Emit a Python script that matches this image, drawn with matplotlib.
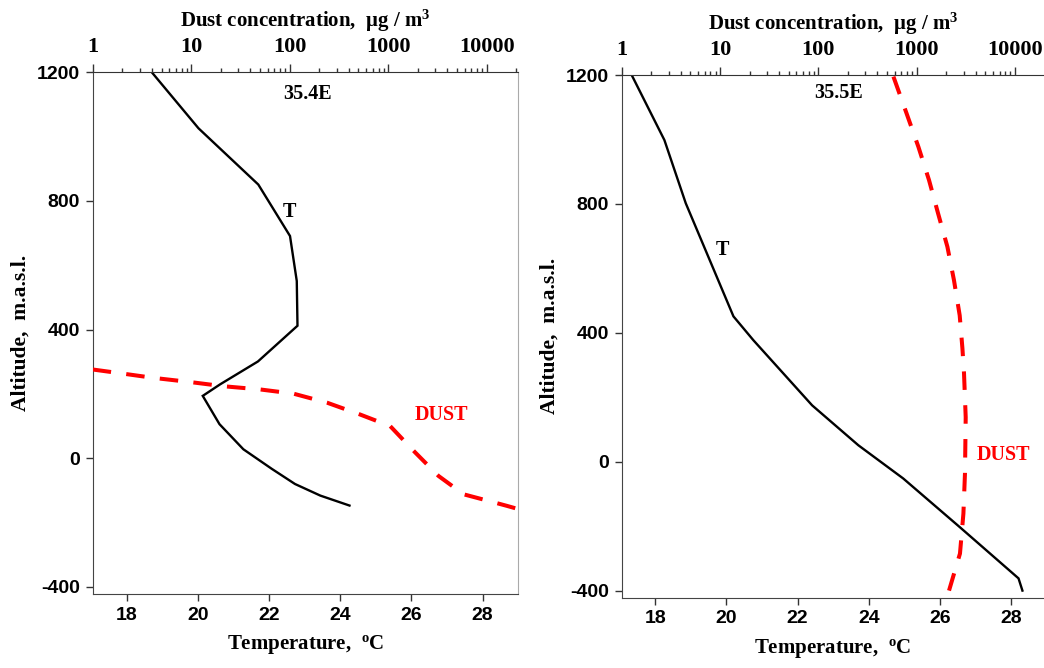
import matplotlib
matplotlib.use("Agg")
import matplotlib.pyplot as plt
from matplotlib.ticker import FixedLocator, LogLocator, NullFormatter, FixedFormatter

plt.rcParams['mathtext.fontset'] = 'custom'
plt.rcParams['mathtext.rm'] = 'Liberation Serif:bold'
plt.rcParams['mathtext.bf'] = 'Liberation Serif:bold'
plt.rcParams['mathtext.it'] = 'Liberation Serif:bold'
plt.rcParams['axes.unicode_minus'] = False

# ---------------- data ----------------
# Left panel (35.4E)
left_T_temp = [18.71, 20.02, 21.70, 22.59, 22.78, 22.80, 21.69, 20.63, 20.14, 20.61, 21.28, 22.08, 22.73, 23.44, 24.26]
left_T_alt = [1200, 1026, 851, 691, 551, 412, 301, 230, 194, 106, 28, -33, -80, -116, -147]
left_dust_conc = [1.0, 2.05, 4.13, 9.75, 21.2, 50.1, 109, 239, 520, 1050, 1885, 3250, 5840, 10900, 16100, 21000]
left_dust_alt = [276, 263, 250, 237, 224, 214, 201, 173, 136, 100, 18, -55, -112, -134, -148, -158]

# Right panel (35.5E)
right_T_temp = [17.34, 18.26, 18.86, 20.20, 20.76, 22.41, 23.71, 24.97, 26.57, 28.21, 28.32]
right_T_alt = [1200, 998, 802, 451, 377, 175, 51, -52, -204, -362, -400]
right_dust_conc = [581, 788, 1043, 1337, 1652, 2057, 2400, 2744, 2924, 3036, 3158, 3105, 2993, 2762, 2137]
right_dust_alt = [1195, 1082, 977, 874, 771, 667, 563, 454, 352, 274, 138, -36, -161, -285, -400]

temp_ticks = [18, 20, 22, 24, 26, 28]
alt_ticks = [-400, 0, 400, 800, 1200]
conc_ticks = [1, 10, 100, 1000, 10000]
conc_ticklabels = ['1', '10', '100', '1000', '10000']
panel_titles = ['35.4E', '35.5E']

SANS = 'Liberation Sans'
SERIF = 'Liberation Serif'

fig = plt.figure(figsize=(10.44, 6.68), dpi=100)

W, H = 1044, 668
def rect(x0, x1, y0, y1):
    return [x0 / W, 1 - y1 / H, (x1 - x0) / W, (y1 - y0) / H]

panels = [
    dict(rect=rect(92.7, 518.3, 72.3, 594.0), xlim=(17.05, 29.0), clim=(1, 21000),
         T=(left_T_temp, left_T_alt), D=(left_dust_conc, left_dust_alt),
         title=panel_titles[0], title_pos=(23.07, 1132), Tlab=(22.57, 767), Dlab=(26.85, 136),
         right_spine=True),
    dict(rect=rect(621.7, 1044.5, 75.0, 597.7), xlim=(17.06, 28.94), clim=(1, 20000),
         T=(right_T_temp, right_T_alt), D=(right_dust_conc, right_dust_alt),
         title=panel_titles[1], title_pos=(23.15, 1143), Tlab=(19.89, 656), Dlab=(27.78, 20),
         right_spine=False),
]

for p in panels:
    ax = fig.add_axes(p['rect'])
    ax.set_xlim(*p['xlim'])
    ax.set_ylim(-422, 1200)
    ax.plot(p['T'][0], p['T'][1], color='black', lw=1.7, solid_joinstyle='miter', zorder=3)

    ax.set_xticks(temp_ticks)
    ax.set_yticks(alt_ticks)
    ax.tick_params(axis='both', direction='out', length=5, width=1, colors='#333333',
                   labelcolor='black', pad=4)
    for lab in ax.get_xticklabels() + ax.get_yticklabels():
        lab.set_fontfamily(SANS)
        lab.set_fontweight('bold')
        lab.set_fontsize(14)
    ax.set_xlabel('Temperature,  $^{\\mathrm{o}}$C', fontfamily=SERIF, fontweight='bold',
                  fontsize=15, labelpad=7)
    ax.set_ylabel('Altitude,  m.a.s.l.', fontfamily=SERIF, fontweight='bold',
                  fontsize=15.5, labelpad=5)
    ax.spines['left'].set_color('#444444')
    ax.spines['bottom'].set_color('#444444')
    ax.spines['right'].set_color('#aaaaaa')
    ax.spines['right'].set_visible(p['right_spine'])
    ax.spines['top'].set_visible(False)

    ax.text(*p['title_pos'], p['title'], fontfamily=SERIF, fontweight='bold', fontsize=14.5,
            ha='center', va='center')
    ax.text(*p['Tlab'], 'T', fontfamily=SERIF, fontweight='bold', fontsize=14.5,
            ha='center', va='center')
    ax.text(*p['Dlab'], 'DUST', fontfamily=SERIF, fontweight='bold', fontsize=14.5,
            color='#ff0000', ha='center', va='center', zorder=5)

    ax2 = ax.twiny()
    ax2.set_xscale('log')
    ax2.set_xlim(*p['clim'])
    ax2.set_ylim(-422, 1200)
    ax2.plot(p['D'][0], p['D'][1], color='#ff0000', lw=2.9, dashes=(4.6, 3.8),
             dash_capstyle='butt', zorder=4)
    ax2.xaxis.set_major_locator(FixedLocator(conc_ticks))
    ax2.xaxis.set_major_formatter(FixedFormatter(conc_ticklabels))
    ax2.xaxis.set_minor_locator(LogLocator(base=10, subs=range(2, 10)))
    ax2.xaxis.set_minor_formatter(NullFormatter())
    ax2.tick_params(axis='x', which='major', direction='out', length=6, width=1,
                    colors='#333333', labelcolor='black', pad=5)
    ax2.tick_params(axis='x', which='minor', direction='out', length=3, width=1,
                    colors='#333333')
    for lab in ax2.get_xticklabels():
        lab.set_fontfamily(SERIF)
        lab.set_fontweight('bold')
        lab.set_fontsize(16)
    ax2.set_xlabel('Dust concentration,  \u03bcg / m$^{\\mathrm{3}}$', fontfamily=SERIF,
                   fontweight='bold', fontsize=15, labelpad=7)
    ax2.spines['top'].set_color('#333333')
    for s in ('left', 'right', 'bottom'):
        ax2.spines[s].set_visible(False)

fig.savefig('out.png', dpi=100)
